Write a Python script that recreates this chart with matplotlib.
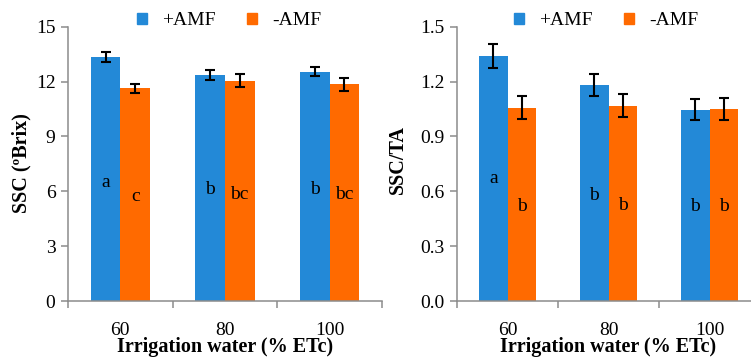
import numpy as np
import matplotlib.pyplot as plt
from matplotlib.patches import Patch

# data
irrigation = ['60', '80', '100']
ssc_amf = [13.36, 12.37, 12.54]
ssc_amf_err = [0.27, 0.28, 0.25]
ssc_noamf = [11.63, 12.05, 11.86]
ssc_noamf_err = [0.25, 0.35, 0.35]
ssc_letters_amf = ['a', 'b', 'b']
ssc_letters_noamf = ['c', 'bc', 'bc']
ssc_letter_y_amf = [6.5, 6.1, 6.1]
ssc_letter_y_noamf = [5.7, 5.85, 5.85]

ratio_amf = [1.341, 1.179, 1.046]
ratio_amf_err = [0.066, 0.060, 0.058]
ratio_noamf = [1.057, 1.068, 1.051]
ratio_noamf_err = [0.064, 0.064, 0.059]
ratio_letters_amf = ['a', 'b', 'b']
ratio_letters_noamf = ['b', 'b', 'b']
ratio_letter_y_amf = [0.67, 0.575, 0.515]
ratio_letter_y_noamf = [0.515, 0.52, 0.515]

blue = '#2389D7'
orange = '#FF6A00'
grey = '#8C8C8C'
plt.rcParams['font.family'] = ['Liberation Serif', 'DejaVu Serif']

fig = plt.figure(figsize=(7.51, 3.61), dpi=100)
ax1 = fig.add_axes([68/751, 1-301/361, 314/751, 274.3/361])
ax2 = fig.add_axes([457/751, 1-301/361, 303/751, 274.3/361])

def panel(ax, v1, e1, v2, e2, l1, l2, y1, y2, ticks, fmt, legx):
    x = np.arange(len(irrigation))
    w = 0.283
    ax.bar(x-w/2, v1, w, color=blue, zorder=2)
    ax.bar(x+w/2, v2, w, color=orange, zorder=2)
    ax.errorbar(x-w/2, v1, yerr=e1, fmt='none', ecolor='black', elinewidth=1.5, capsize=3.5, capthick=1.5, zorder=3)
    ax.errorbar(x+w/2, v2, yerr=e2, fmt='none', ecolor='black', elinewidth=1.5, capsize=3.5, capthick=1.5, zorder=3)
    for i in range(len(x)):
        ax.text(x[i]-w/2, y1[i], l1[i], ha='center', va='center', fontsize=14)
        ax.text(x[i]+w/2, y2[i], l2[i], ha='center', va='center', fontsize=14)
    ax.set_xlim(-0.5, 2.5)
    ax.set_ylim(ticks[0], ticks[-1])
    ax.set_yticks(ticks)
    ax.set_yticklabels([fmt % t for t in ticks])
    ax.set_xticks([-0.5, 0.5, 1.5, 2.5])
    ax.set_xticklabels([])
    ax.set_xticks(x, minor=True)
    ax.set_xticklabels(irrigation, minor=True)
    ax.tick_params(axis='x', which='minor', length=0, pad=15, labelsize=14)
    ax.tick_params(axis='x', which='major', length=5, width=1.1, color=grey, direction='out')
    ax.tick_params(axis='y', length=5, width=1.1, color=grey, labelsize=14, pad=4)
    for s in ['top', 'right']:
        ax.spines[s].set_visible(False)
    for s in ['left', 'bottom']:
        ax.spines[s].set_color(grey)
        ax.spines[s].set_linewidth(1.1)
    ax.set_xlabel('Irrigation water (% ETc)', fontsize=14.5, fontweight='bold', labelpad=-1)
    handles = [Patch(color=blue), Patch(color=orange)]
    ax.legend(handles, ['+AMF', '-AMF'], loc='center', bbox_to_anchor=(legx, 1.022), ncol=2,
              frameon=False, fontsize=14, handlelength=0.52, handleheight=0.52,
              handletextpad=0.8, columnspacing=1.6, borderaxespad=0)
    return ax

panel(ax1, ssc_amf, ssc_amf_err, ssc_noamf, ssc_noamf_err, ssc_letters_amf, ssc_letters_noamf,
      ssc_letter_y_amf, ssc_letter_y_noamf, [0, 3, 6, 9, 12, 15], '%d', 0.513)
panel(ax2, ratio_amf, ratio_amf_err, ratio_noamf, ratio_noamf_err, ratio_letters_amf, ratio_letters_noamf,
      ratio_letter_y_amf, ratio_letter_y_noamf, [0.0, 0.3, 0.6, 0.9, 1.2, 1.5], '%.1f', 0.492)

ax1.set_ylabel('SSC (ºBrix)', fontsize=14.5, fontweight='bold')
ax1.yaxis.set_label_coords(-0.115, 0.503)
ax2.set_ylabel('SSC/TA', fontsize=14.5, fontweight='bold')
ax2.yaxis.set_label_coords(-0.163, 0.514)

fig.savefig('out.png', dpi=100)
